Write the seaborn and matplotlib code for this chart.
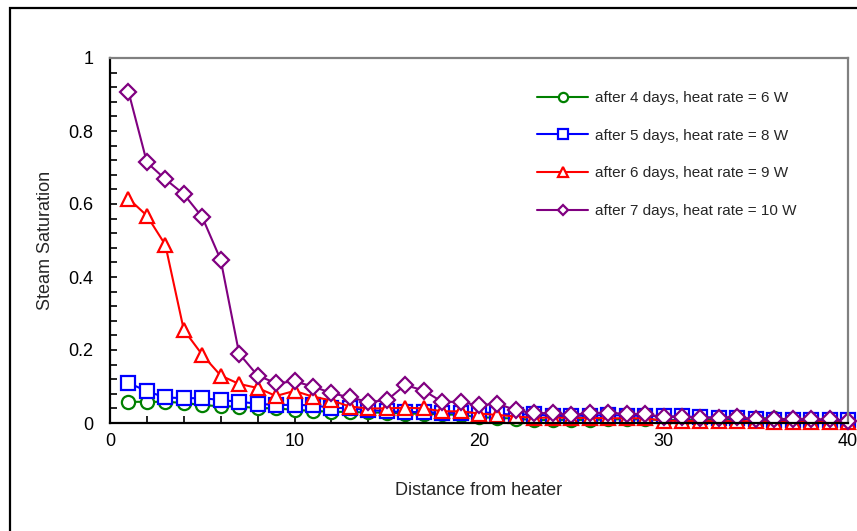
import matplotlib
matplotlib.use("Agg")
import matplotlib.pyplot as plt
import seaborn as sns
import pandas as pd
from matplotlib.ticker import MultipleLocator, FuncFormatter
from matplotlib.patches import Rectangle

distance = list(range(1, 41))

sat_4days = [0.058, 0.058, 0.058, 0.055, 0.049, 0.046, 0.045, 0.041, 0.040, 0.036,
             0.033, 0.031, 0.030, 0.029, 0.028, 0.026, 0.025, 0.024, 0.022, 0.016,
             0.014, 0.012, 0.008, 0.008, 0.009, 0.008, 0.010, 0.010, 0.010, 0.008,
             0.008, 0.008, 0.010, 0.010, 0.012, 0.014, 0.008, 0.006, 0.006, 0.006]
sat_5days = [0.110, 0.087, 0.070, 0.068, 0.068, 0.063, 0.058, 0.053, 0.049, 0.050,
             0.048, 0.042, 0.040, 0.036, 0.032, 0.030, 0.030, 0.028, 0.028, 0.030,
             0.026, 0.022, 0.025, 0.018, 0.020, 0.020, 0.022, 0.020, 0.020, 0.018,
             0.018, 0.016, 0.015, 0.014, 0.010, 0.008, 0.008, 0.008, 0.008, 0.008]
sat_6days = [0.615, 0.568, 0.488, 0.255, 0.187, 0.130, 0.107, 0.096, 0.074, 0.088,
             0.072, 0.062, 0.045, 0.040, 0.040, 0.042, 0.040, 0.032, 0.032, 0.026,
             0.022, 0.018, 0.014, 0.015, 0.014, 0.014, 0.013, 0.013, 0.013, 0.006,
             0.006, 0.005, 0.005, 0.005, 0.005, 0.004, 0.004, 0.004, 0.004, 0.004]
sat_7days = [0.908, 0.714, 0.668, 0.627, 0.564, 0.447, 0.190, 0.130, 0.109, 0.114,
             0.100, 0.082, 0.070, 0.058, 0.062, 0.104, 0.089, 0.058, 0.058, 0.048,
             0.053, 0.035, 0.027, 0.027, 0.022, 0.027, 0.028, 0.025, 0.024, 0.017,
             0.017, 0.014, 0.015, 0.016, 0.010, 0.010, 0.010, 0.010, 0.010, 0.005]

labels = ["after 4 days, heat rate = 6 W",
          "after 5 days, heat rate = 8 W",
          "after 6 days, heat rate = 9 W",
          "after 7 days, heat rate = 10 W"]
colors = ["#008000", "#0000FF", "#FF0000", "#800080"]
markers = ["o", "s", "^", "D"]
msizes = [9.5, 9.5, 10.5, 8]

sns.set_style("white")
plt.rcParams['font.family'] = ['Liberation Sans', 'DejaVu Sans']

fig = plt.figure(figsize=(8.57, 5.31), dpi=100)
ax = fig.add_axes([110/857, 1-423/531, 738/857, 365/531])

series = [sat_4days, sat_5days, sat_6days, sat_7days]
for vals, lab, col, mk, ms in zip(series, labels, colors, markers, msizes):
    df = pd.DataFrame({"Distance": distance, "Saturation": vals})
    sns.lineplot(data=df, x="Distance", y="Saturation", ax=ax, color=col,
                 marker=mk, markersize=ms, markerfacecolor="white",
                 markeredgecolor=col, markeredgewidth=1.6, linewidth=1.5,
                 label=lab, clip_on=False)

ax.set_xlim(0, 40)
ax.set_ylim(0, 1)
ax.xaxis.set_major_locator(MultipleLocator(10))
ax.xaxis.set_minor_locator(MultipleLocator(2))
ax.yaxis.set_major_locator(MultipleLocator(0.2))
ax.yaxis.set_minor_locator(MultipleLocator(0.04))
ax.yaxis.set_major_formatter(FuncFormatter(lambda v, p: "%g" % round(v, 2)))

ax.tick_params(which="both", direction="in", length=5, width=1.2, colors="black",
               labelsize=13)
ax.tick_params(axis="y", which="both", pad=12)
ax.tick_params(axis="x", which="both", pad=7)
ax.tick_params(which="both", left=True, bottom=True, top=False, right=False)

for side in ["left", "bottom"]:
    ax.spines[side].set_color("black")
    ax.spines[side].set_linewidth(1.6)
for side in ["top", "right"]:
    ax.spines[side].set_color("#808080")
    ax.spines[side].set_linewidth(1.6)

ax.set_xlabel("Distance from heater", fontsize=13, labelpad=23)
ax.set_ylabel("Steam Saturation", fontsize=13, labelpad=10)

leg = ax.legend(loc="upper left", bbox_to_anchor=(0.579, 0.91), frameon=False,
                fontsize=11, labelspacing=1.55, handlelength=3.3,
                handletextpad=0.45, borderpad=0, borderaxespad=0,
                markerscale=0.7)

fig.patches.append(Rectangle((10/857, -0.2), 1.5, 1.2 - 8/531,
                             transform=fig.transFigure, fill=False,
                             edgecolor="black", linewidth=1.6, zorder=-1))

fig.savefig("out.png", dpi=100)
